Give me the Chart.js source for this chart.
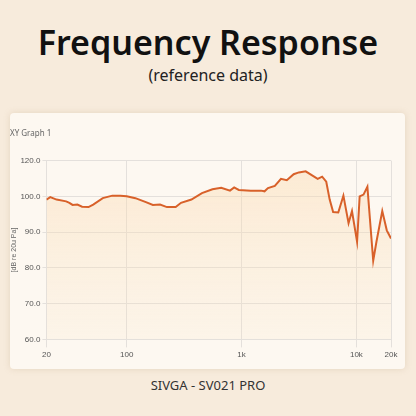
<!DOCTYPE html>
<html>
<head>
<script src="https://cdn.jsdelivr.net/npm/chart.js@4"></script>
<style>
  body { margin:0; width:416px; height:416px; background:#f7ebdc; font-family:"Noto Sans", sans-serif; position:relative; overflow:hidden; }
  h1 { position:absolute; top:19px; width:100%; text-align:center; margin:0; font-size:34px; font-weight:600; color:#111; }
  .sub { position:absolute; top:64px; width:100%; text-align:center; font-size:16px; color:#222; }
  .card { position:absolute; left:10px; top:113px; width:395px; height:256px; background:#fdf8f1; border-radius:4px; box-shadow:0 0 6px rgba(180,150,110,0.25); }
  .foot { position:absolute; top:376px; width:100%; text-align:center; font-size:13px; color:#333; }
</style>
</head>
<body>
<h1>Frequency Response</h1>
<div class="sub">(reference data)</div>
<div class="card"><canvas id="myChart" width="395" height="256"></canvas></div>
<div class="foot">SIVGA - SV021 PRO</div>
<script>
const freqs = [20, 21.6, 24.5, 29.7, 31.7, 33.8, 37.2, 40.9, 46.5, 51.1, 61.9, 75, 88, 100, 119, 147, 169, 195, 224, 267, 297, 366, 452, 558, 665, 793, 862, 946, 1204, 1480, 1585, 1698, 1948, 2203, 2477, 2843, 3152, 3615, 4600, 5030, 5461, 5851, 6270, 6950, 7703, 8540, 9150, 10130, 10670, 11530, 12460, 14000, 14940, 16790, 18380, 20000];
const levels = [99.1, 99.8, 99.1, 98.6, 98.2, 97.6, 97.7, 97.1, 97.0, 97.7, 99.5, 100.2, 100.2, 100.0, 99.5, 98.4, 97.6, 97.7, 97.0, 97.0, 98.2, 99.1, 100.9, 102.0, 102.4, 101.6, 102.5, 101.8, 101.6, 101.6, 101.4, 102.3, 102.9, 104.9, 104.5, 106.2, 106.7, 107.0, 104.9, 105.5, 104.1, 99.1, 95.6, 95.5, 100.2, 92.5, 95.9, 87.3, 100.0, 100.5, 102.7, 82.0, 87.3, 95.9, 90.5, 88.2];
const xTicks = [20, 100, 1000, 10000, 20000];
const xTickLabels = ['20', '100', '1k', '10k', '20k'];
const yTickLabels = {60: '60.0', 70: '70.0', 80: '80.0', 90: '90.0', 100: '100.0', 110: '120.0'};

const ctx = document.getElementById('myChart').getContext('2d');
const grad = ctx.createLinearGradient(0, 40, 0, 230);
grad.addColorStop(0, 'rgba(250,215,170,0.45)');
grad.addColorStop(1, 'rgba(250,225,190,0.15)');

new Chart(ctx, {
    type: 'line',
    data: {
        datasets: [{
            data: freqs.map((f, i) => ({x: f, y: levels[i]})),
            borderColor: '#d8612a',
            backgroundColor: grad,
            borderWidth: 2,
            pointRadius: 0,
            fill: 'start',
            tension: 0
        }]
    },
    options: {
        responsive: false,
        animation: false,
        layout: { padding: {left: 0, right: 14, top: 0, bottom: 6} },
        plugins: {
            legend: { display: false },
            title: {
                display: true,
                text: 'XY Graph 1',
                align: 'start',
                color: '#666',
                font: { size: 8, family: 'Noto Sans', weight: 'normal' },
                padding: { top: 16, bottom: 22 }
            }
        },
        scales: {
            x: {
                type: 'logarithmic',
                min: 20,
                max: 20000,
                afterBuildTicks: axis => { axis.ticks = xTicks.map(v => ({value: v})); },
                ticks: {
                    autoSkip: false,
                    maxRotation: 0,
                    color: '#555',
                    font: { size: 8 },
                    callback: (v) => xTickLabels[xTicks.indexOf(v)]
                },
                grid: { color: '#e4e0dc' },
                border: { display: false }
            },
            y: {
                min: 60,
                max: 110,
                ticks: {
                    stepSize: 10,
                    color: '#555',
                    padding: 2,
                    font: { size: 8 },
                    callback: (v) => yTickLabels[v]
                },
                title: { display: true, text: '[dB re 20u Pa]', color: '#666', padding: 0, font: { size: 7 } },
                grid: { color: '#e4e0dc', tickLength: 4 },
                border: { display: false }
            }
        }
    }
});
</script>
</body>
</html>
